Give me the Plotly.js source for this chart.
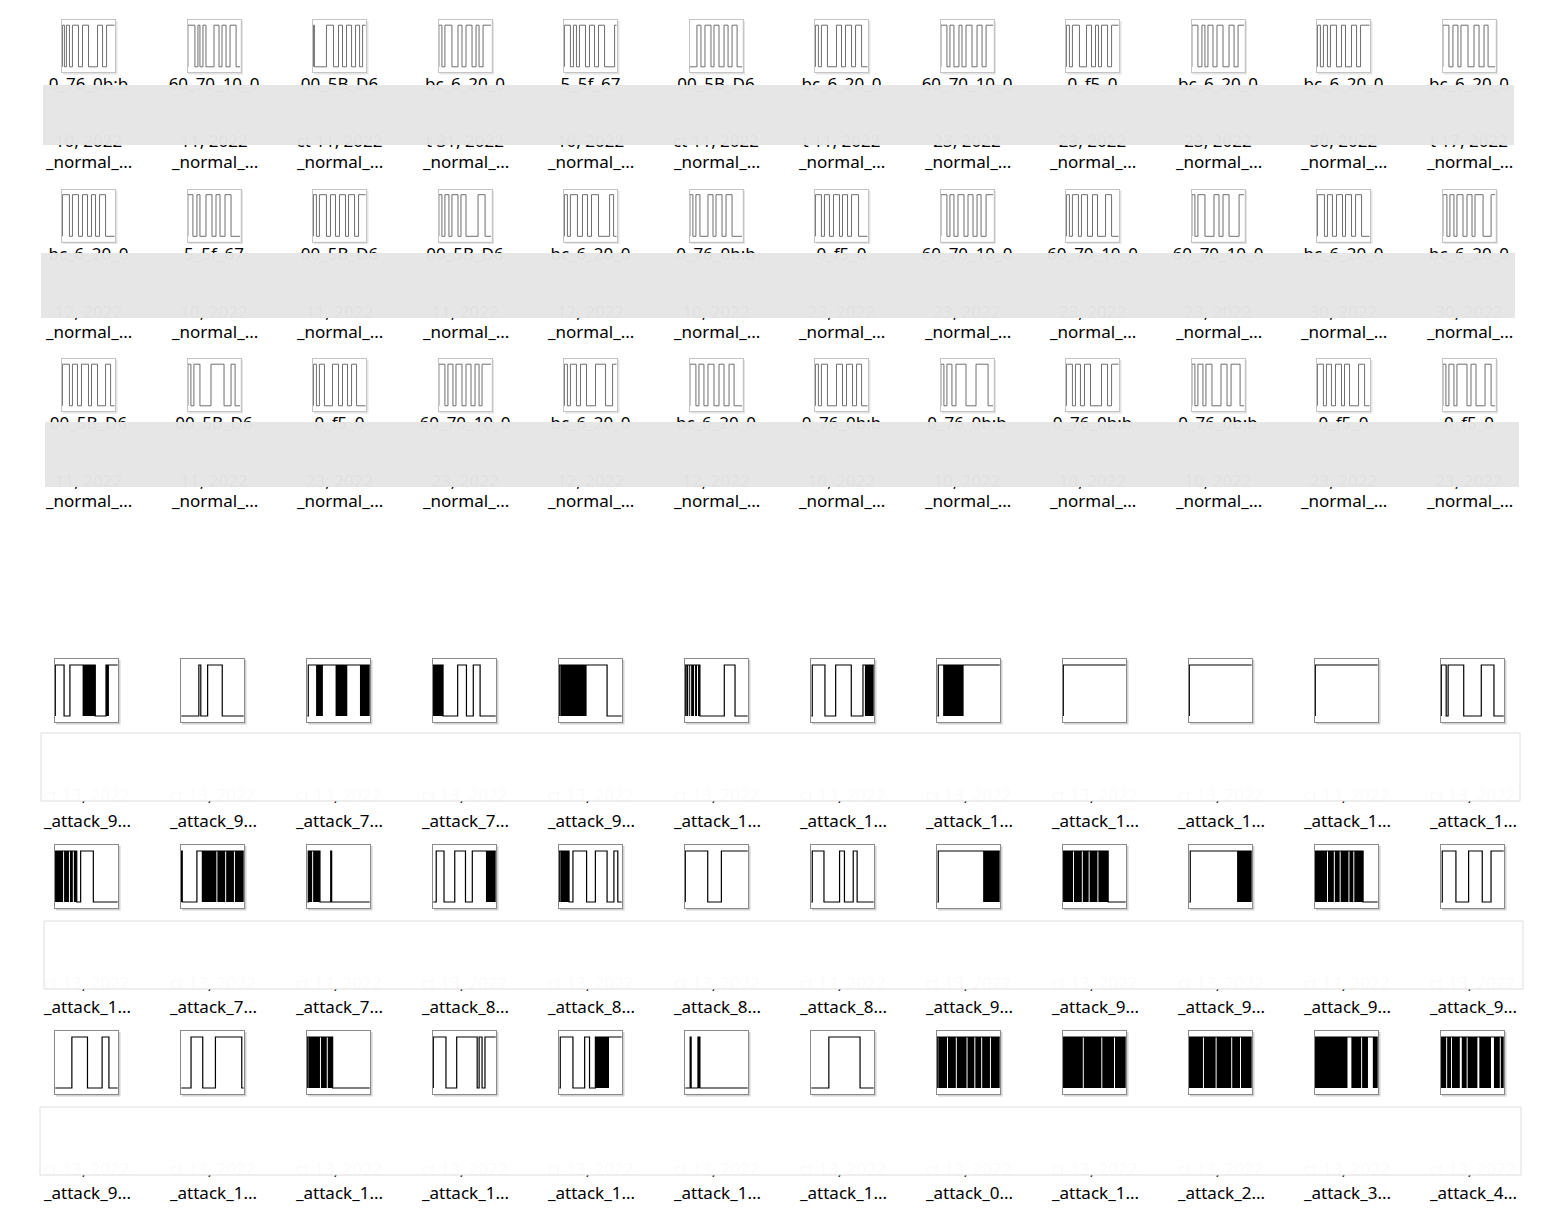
<!DOCTYPE html>
<html><head><meta charset="utf-8">
<script src="https://cdn.plot.ly/plotly-3.0.1.min.js"></script>
<style>html,body{margin:0;padding:0;background:#fff;}#chart{width:1549px;height:1214px;}</style>
</head><body><div id="chart"></div>
<script>
const W = 1549, H = 1214;

// ---- normal thumbnails: runs (h = high, l = low) with lengths in time units (52 per thumbnail)
const normalRow1 = ["h2 l2 h3 l3 h6 l4 h6 l9 h5 l4 h8","h7 l3 h2 l3 h3 l8 h5 l3 h4 l4 h6 l4","h1 l12 h7 l5 h4 l4 h5 l4 h4 l3 h3","h3 l3 h7 l6 h4 l4 h6 l4 h3 l4 h8","h6 l3 h3 l3 h6 l4 h5 l4 h6 l10 h2","l7 h4 l4 h6 l3 h5 l5 h4 l4 h5 l5","h3 l3 h6 l9 h5 l4 h6 l4 h6 l6","h6 l3 h4 l5 h3 l4 h6 l5 h5 l4 h7","h3 l3 h7 l7 h5 l4 h3 l3 h6 l4 h7","h6 l4 h3 l3 h5 l4 h6 l6 h5 l4 h6","h3 l3 h4 l3 h6 l5 h4 l6 h5 l4 h9","h6 l4 h5 l3 h7 l6 h5 l5 h4 l7"];
const normalRow2 = ["h7 l3 h6 l4 h5 l4 h4 l4 h6 l9","h5 l4 h3 l6 h6 l4 h4 l5 h6 l9","h3 l3 h7 l4 h5 l4 h6 l3 h6 l4 h7","h3 l3 h4 l3 h6 l3 h5 l12 h7 l6","h3 l3 h7 l5 h5 l4 h7 l11 h4 l3","h3 l3 h4 l8 h5 l3 h6 l4 h6 l10","h6 l3 h5 l4 h6 l3 h5 l4 h7 l9","h6 l3 h4 l4 h6 l4 h5 l4 h4 l5 h7","h3 l3 h6 l3 h6 l5 h5 l8 h6 l7","h3 l3 h7 l9 h5 l4 h6 l10 h5","h7 l3 h5 l4 h6 l3 h6 l4 h6 l8","h4 l3 h4 l3 h6 l4 h5 l3 h8 l8 h4"];
const normalRow3 = ["h7 l3 h5 l4 h7 l3 h6 l8 h5 l4","h3 l3 h6 l11 h13 l7 h4 l5","h3 l3 h5 l8 h6 l4 h5 l4 h5 l9","h6 l3 h5 l3 h6 l4 h5 l4 h4 l3 h9","h3 l3 h6 l4 h6 l9 h10 l7 h4","h6 l3 h5 l4 h6 l5 h5 l5 h5 l8","h3 l3 h6 l9 h6 l4 h6 l4 h5 l6","h3 l3 h5 l4 h10 l10 h12 l5","h6 l3 h5 l4 h6 l11 h6 l4 h7","h3 l3 h5 l3 h6 l9 h6 l4 h9 l4","h6 l3 h5 l4 h6 l3 h5 l9 h6 l5","h3 l3 h5 l3 h10 l4 h5 l9 h6 l4"];

// ---- attack thumbnails: runs (h = high, l = low, d = dense toggling) with lengths in time units (64 per thumbnail)
const attackRow1 = ["h9 l6 h13 d13 l11 d3 h9","l18 h2 l7 h15 l22","l1 h8 d7 h13 d12 h13 d10","d10 l15 h9 l7 h7 l16","h1 d27 h21 l15","h1 d2 h1 d1 h1 d3 h1 d2 h1 d2 l25 h11 l13","l1 h13 l11 h16 l12 h2 d9","l1 h5 d21 h37","h64","h64","h64","h5 l2 h16 l18 h13 l10"];
const attackRow2 = ["d8 h1 d5 h1 d3 h1 d3 l4 h13 l25","h1 l15 h5 d15 h1 d8 h1 d8 h1 d9","l1 d4 h1 d7 l11 h1 l39","l3 h8 l11 h11 l7 h14 d10","h1 d9 l4 h14 l9 h12 l7 h4 l4","h23 l14 h27","l1 h12 l16 h5 l9 h4 l17","l1 h46 d17","d10 h1 d8 h1 d6 h1 d8 h1 d10 l18","l1 h48 d15","d12 h1 d6 h1 d5 h1 d8 h1 d4 h1 d9 l15","l1 h14 l13 h14 l9 h13"];
const attackRow3 = ["l17 h16 l15 h7 l9","l10 h12 l13 h27 l2","h1 d12 h1 d6 h1 d5 l38","h13 l11 h21 l2 h3 l3 h11","l1 h13 l12 h5 l6 d14 h13","l5 h1 l7 d2 l49","l18 h32 l14","h1 d9 h1 d8 h1 d10 h1 d7 h1 d6 h1 d8 h1 d9","d20 h1 d18 h1 d12 h1 d11","d14 h1 d12 h1 d15 h1 d8 h1 d11","d33 h4 d10 h1 d6 h5 d5","d5 h1 d4 h1 d8 h2 d5 h1 d10 h2 d12 h3 d6 h1 d3"];

// ---- labels
const normalLabel = "_normal_...";
const attackLabelsRow1 = ["_attack_9...","_attack_9...","_attack_7...","_attack_7...","_attack_9...","_attack_1...","_attack_1...","_attack_1...","_attack_1...","_attack_1...","_attack_1...","_attack_1..."];
const attackLabelsRow2 = ["_attack_1...","_attack_7...","_attack_7...","_attack_8...","_attack_8...","_attack_8...","_attack_8...","_attack_9...","_attack_9...","_attack_9...","_attack_9...","_attack_9..."];
const attackLabelsRow3 = ["_attack_9...","_attack_1...","_attack_1...","_attack_1...","_attack_1...","_attack_1...","_attack_1...","_attack_0...","_attack_1...","_attack_2...","_attack_3...","_attack_4..."];

// ---- text lying under the masking boxes (only fragments show)
const normalInfoRow1 = ["0_76_0b:b","60_70_10_0","00_5B_D6","bc_6_20_0","5_5f_67","00_5B_D6","bc_6_20_0","60_70_10_0","0_f5_0","bc_6_20_0","bc_6_20_0","bc_6_20_0"];
const normalInfoRow2 = ["bc_6_20_0","5_5f_67","00_5B_D6","00_5B_D6","bc_6_20_0","0_76_0b:b","0_f5_0","60_70_10_0","60_70_10_0","60_70_10_0","bc_6_20_0","bc_6_20_0"];
const normalInfoRow3 = ["00_5B_D6","00_5B_D6","0_f5_0","60_70_10_0","bc_6_20_0","bc_6_20_0","0_76_0b:b","0_76_0b:b","0_76_0b:b","0_76_0b:b","0_f5_0","0_f5_0"];
const normalDateRow1 = ["10, 2022","11, 2022","ct 11, 2022","t 31, 2022","10, 2022","ct 11, 2022","t 11, 2022","23, 2022","23, 2022","23, 2022","30, 2022","t 17, 2022"];
const normalDateRow2 = ["12, 2022","10, 2022","11, 2022","11, 2022","12, 2022","10, 2022","23, 2022","23, 2022","23, 2022","23, 2022","30, 2022","30, 2022"];
const normalDateRow3 = ["11, 2022","11, 2022","23, 2022","23, 2022","12, 2022","12, 2022","10, 2022","10, 2022","10, 2022","10, 2022","23, 2022","23, 2022"];
const attackDate = "ct 13, 2022";

// ---------------- build ----------------
const FONT = "Noto Sans, Open Sans, sans-serif";
const traces = [];
const layout = {
  width: W, height: H, margin: {l:0, r:0, t:0, b:0},
  paper_bgcolor: "#ffffff", plot_bgcolor: "rgba(0,0,0,0)",
  showlegend: false, shapes: [], annotations: [], hovermode: false
};
let k = 0;
function addAxes(l, t, w, h, xr, yr, lc) {
  k++;
  const sfx = k === 1 ? "" : String(k);
  const base = {showgrid:false, zeroline:false, showticklabels:false, ticks:"", fixedrange:true,
                showline:true, mirror:true, linecolor:lc, linewidth:1};
  layout["xaxis" + sfx] = Object.assign({}, base, {domain:[l / W, (l + w) / W], range:xr, anchor:"y" + sfx});
  layout["yaxis" + sfx] = Object.assign({}, base, {domain:[1 - (t + h) / H, 1 - t / H], range:yr, anchor:"x" + sfx});
  return ["x" + sfx, "y" + sfx];
}
function px(x){return x / W;} function py(y){return 1 - y / H;}
function thumbBack(l, t, w, h, shadow) {
  layout.shapes.push({type:"rect", xref:"paper", yref:"paper", layer:"below",
    x0:px(l+1), x1:px(l+w+2.5), y0:py(t+1), y1:py(t+h+2.5), fillcolor:shadow, line:{width:0}});
  layout.shapes.push({type:"rect", xref:"paper", yref:"paper", layer:"below",
    x0:px(l), x1:px(l+w), y0:py(t), y1:py(t+h), fillcolor:"#ffffff", line:{width:0}});
}
function parseRuns(spec) {
  return spec.trim().split(/\s+/).map(tok => ({kind: tok[0], len: +tok.slice(1)}));
}
function addWave(spec, ax, color, width) {
  const runs = parseRuns(spec);
  const xs = [0], ys = [0], bx = [], bw = [], by = [];
  let pos = 0, last = 0;
  runs.forEach(run => {
    const v = run.kind === "l" ? 0 : 1;
    xs.push(pos); ys.push(v); last = v;
    if (run.kind === "d") { bx.push(pos + run.len / 2); bw.push(run.len); by.push(1); }
    pos += run.len;
  });
  xs.push(pos); ys.push(last);
  traces.push({type:"scatter", mode:"lines", x:xs, y:ys, xaxis:ax[0], yaxis:ax[1],
    line:{shape:"hv", color:color, width:width}, hoverinfo:"skip"});
  if (bx.length) {
    traces.push({type:"bar", x:bx, y:by, base:0, width:bw, xaxis:ax[0], yaxis:ax[1],
      marker:{color:color, line:{width:0}}, hoverinfo:"skip"});
  }
}
function totalLen(spec){ return parseRuns(spec).reduce((a, b) => a + b.len, 0); }

// normal section
const normalRows = [normalRow1, normalRow2, normalRow3];
normalRows.forEach((row, r) => {
  row.forEach((spec, c) => {
    const l = 62 + 125.5 * c, t = 20 + 169.5 * r, w = 53, h = 52;
    thumbBack(l, t, w, h, "#e4e4e4");
    const n = totalLen(spec);
    const ax = addAxes(l, t, w, h, [-0.4, n + 0.4], [-0.125, 1.125], "#c4c4c4");
    addWave(spec, ax, "#6e6e6e", 1);
    layout.annotations.push({xref:"paper", yref:"paper", x:px(l + w / 2), y:py(t + 142),
      xanchor:"center", yanchor:"middle", showarrow:false, text:normalLabel,
      font:{family:FONT, size:17, color:"#000"}});
  });
});

// attack section
const attackRows = [attackRow1, attackRow2, attackRow3];
const attackLabelRows = [attackLabelsRow1, attackLabelsRow2, attackLabelsRow3];
attackRows.forEach((row, r) => {
  row.forEach((spec, c) => {
    const l = 55 + 126 * c, t = 659 + 186 * r, w = 63, h = 63;
    thumbBack(l, t, w, h, "#d2d2d2");
    const n = totalLen(spec);
    const ax = addAxes(l, t, w, h, [-0.3, n + 0.3], [-0.118, 1.118], "#8a8a8a");
    addWave(spec, ax, "#000000", 1.2);
    layout.annotations.push({xref:"paper", yref:"paper", x:px(l + w / 2), y:py(t + 161),
      xanchor:"center", yanchor:"middle", showarrow:false, text:attackLabelRows[r][c],
      font:{family:FONT, size:17, color:"#000"}});
  });
});

// masking boxes [left, right, top, bottom] in pixels
const grayBoxes = [[43,1514,85,145],[41,1515,253,318],[45,1519,422,487]];
const whiteBoxes = [[41,1520,733,801],[44,1523,921,989],[40,1521,1107,1175]];

// overlay (pixel) axes for text hidden under the masks
const ov = "73";
layout["xaxis" + ov] = {domain:[0,1], range:[0, W], visible:false, fixedrange:true, anchor:"y" + ov};
layout["yaxis" + ov] = {domain:[0,1], range:[H, 0], visible:false, fixedrange:true, anchor:"x" + ov};
const infoRows = [normalInfoRow1, normalInfoRow2, normalInfoRow3];
const dateRows = [normalDateRow1, normalDateRow2, normalDateRow3];
const hx = [], hy = [], ht = [];
for (let r = 0; r < 3; r++) {
  const dateY = r === 0 ? grayBoxes[r][3] - 2 : grayBoxes[r][3] - 4;
  for (let c = 0; c < 12; c++) {
    const cx = 62 + 125.5 * c + 26.5, t = 20 + 169.5 * r;
    hx.push(cx); hy.push(t + 66); ht.push(infoRows[r][c]);
    hx.push(cx); hy.push(dateY); ht.push(dateRows[r][c]);
    const ax2 = 55 + 126 * c + 31.5;
    hx.push(ax2); hy.push(whiteBoxes[r][3] - 4); ht.push(attackDate);
  }
}
traces.push({type:"scatter", mode:"text", x:hx, y:hy, text:ht, xaxis:"x" + ov, yaxis:"y" + ov,
  textposition:"middle center", cliponaxis:false, hoverinfo:"skip",
  textfont:{family:FONT, size:17, color:"#000"}});

grayBoxes.forEach(b => layout.shapes.push({type:"rect", xref:"paper", yref:"paper", layer:"above",
  x0:px(b[0]), x1:px(b[1]), y0:py(b[2]), y1:py(b[3]), fillcolor:"rgba(229,229,229,0.975)", line:{width:0}}));
whiteBoxes.forEach(b => layout.shapes.push({type:"rect", xref:"paper", yref:"paper", layer:"above",
  x0:px(b[0]), x1:px(b[1]), y0:py(b[2]), y1:py(b[3]), fillcolor:"rgba(255,255,255,0.98)", line:{color:"#dedede", width:1}}));

Plotly.newPlot("chart", traces, layout, {staticPlot:true, displayModeBar:false});
</script>
</body></html>
